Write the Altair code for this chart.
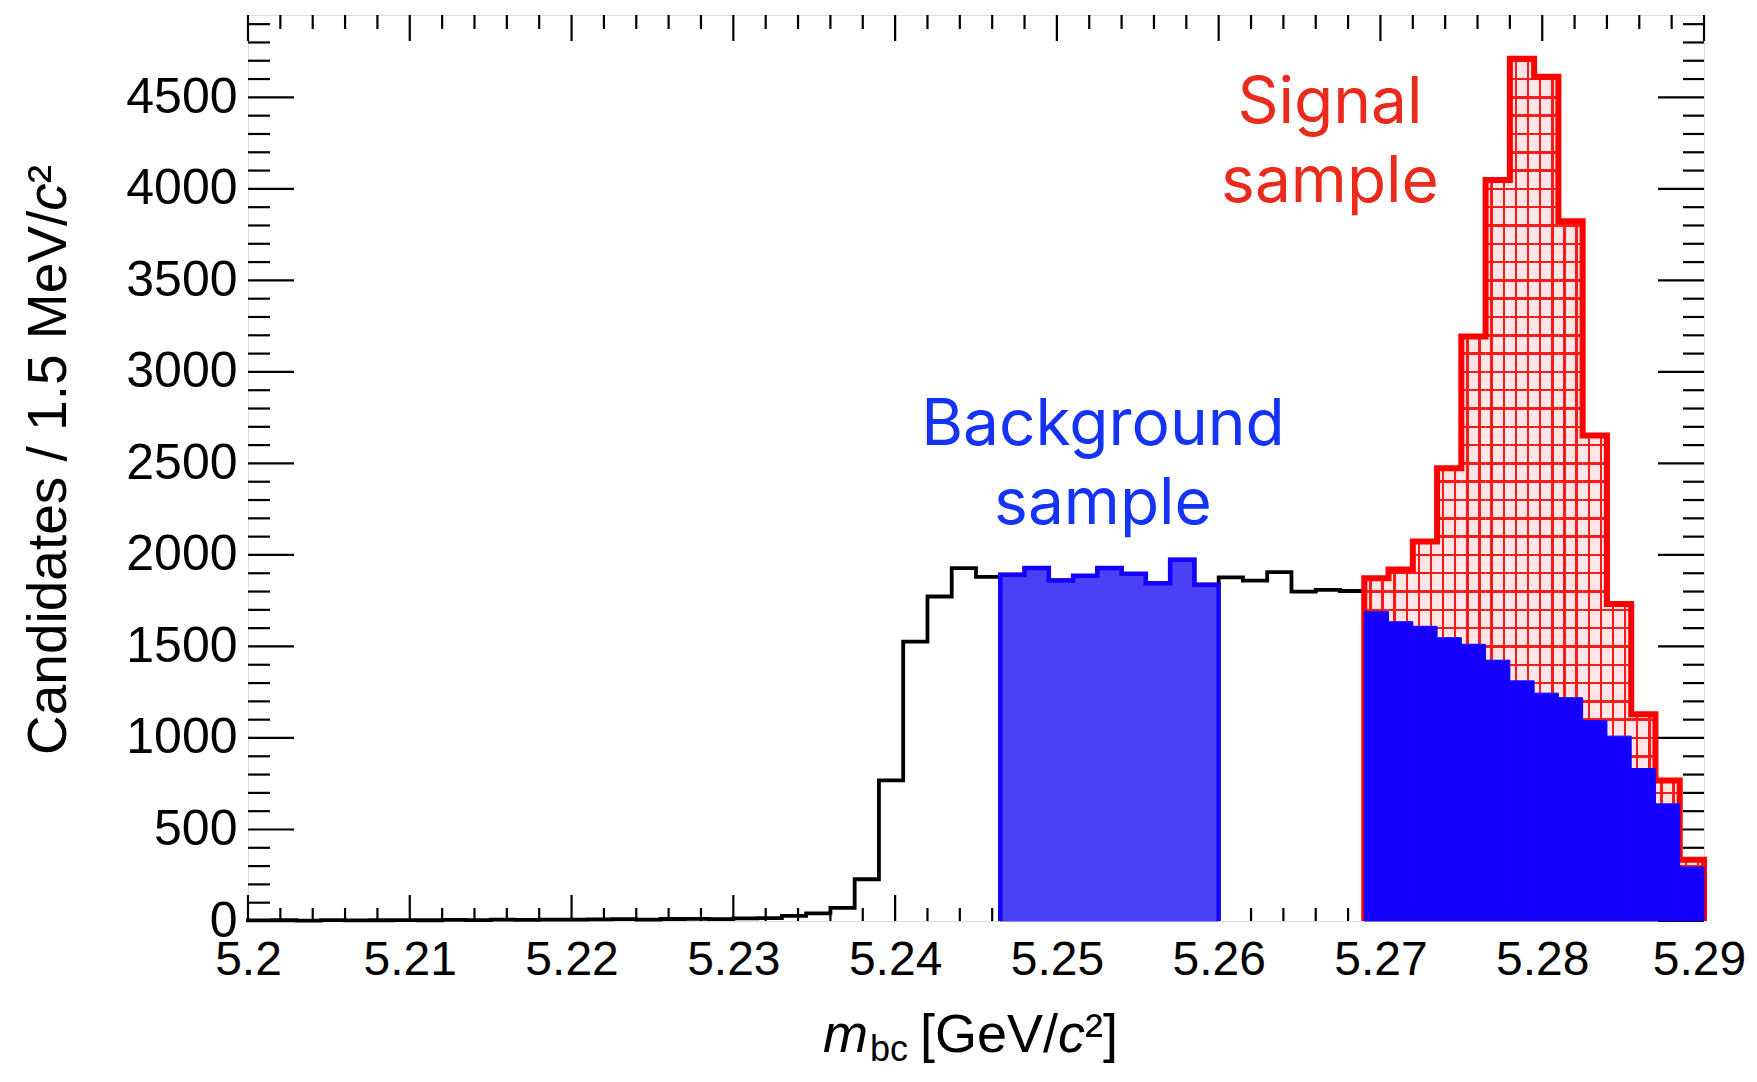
import altair as alt
import pandas as pd

# ---------------- data ----------------
X_LO, X_HI = 5.20, 5.29
BIN_W = 0.0015
Y_MAX = 4950

# total candidates per 1.5 MeV bin (60 bins from 5.200 to 5.290 GeV)
total_counts = [3, 4, 2, 5, 3, 4, 5, 4, 6, 5, 7, 6, 8, 7, 9, 10, 8, 11, 12, 10, 14, 16,
                28, 42, 72, 228, 768, 1526, 1773, 1928, 1880,
                1892, 1928, 1861, 1886, 1928, 1897, 1846, 1974, 1837,
                1877, 1860, 1906, 1800, 1809, 1803,
                1872, 1920, 2074, 2474, 3193, 4048, 4711, 4613, 3823, 2653, 1732, 1129, 767, 335]
# background component inside the signal window (bins 46..59)
bkg_sig_counts = [1690, 1635, 1610, 1548, 1512, 1425, 1312, 1245, 1220, 1095, 1010, 833, 640, 295]

BKG_FIRST, BKG_LAST = 31, 39     # background sample bins
SIG_FIRST, SIG_LAST = 46, 59     # signal sample bins

x_major = [5.20, 5.21, 5.22, 5.23, 5.24, 5.25, 5.26, 5.27, 5.28, 5.29]
y_major = [0, 500, 1000, 1500, 2000, 2500, 3000, 3500, 4000, 4500]
x_minor = [round(5.20 + 0.002 * k, 3) for k in range(1, 45) if k % 5]
y_minor = [v for v in range(100, 5000, 100) if v % 500]

label_signal = ["Signal", "sample"]
label_bkg = ["Background", "sample"]
y_title_parts = ["Candidates / 1.5 MeV/", "c", "²"]
x_title_parts = ["m", "bc", "[GeV/", "c", "²]"]

# ---------------- style ----------------
W, H = 1456, 906
FONT = "Liberation Sans"
TXT_FONT = "Inter"
BLACK = "#000000"
RED = "#ff0000"
BLUE = "#1500ff"
BLUE_HATCH = "#4a40f5"
HATCH_BG = "#ffe6e6"
HATCH_LINE = "#ff1a1a"
SIG_TXT = "#ea2a1c"
BKG_TXT = "#1433f5"

k_px = H / Y_MAX


def edge(i):
    return round(X_LO + i * BIN_W, 5)


def step_path(first, last, vals, close):
    pts = []
    if close:
        pts.append((edge(first), 0))
    for i in range(first, last + 1):
        v = vals[i]
        pts.append((edge(i), v))
        pts.append((edge(i + 1), v))
    if close:
        pts.append((edge(last + 1), 0))
    return pd.DataFrame({"x": [p[0] for p in pts], "y": [p[1] for p in pts],
                         "o": list(range(len(pts)))})


def hline_grad(lo, hi):
    h = (hi - lo) * k_px
    t = 1.25 / h
    stops = [{"offset": 0.0, "color": HATCH_BG}]
    levels = [L for L in range(100, 5000, 100) if lo < L < hi]
    for L in sorted(levels, reverse=True):
        f = (hi - L) / (hi - lo)
        a, b = max(0.0, f - t), min(1.0, f + t)
        stops += [{"offset": a, "color": HATCH_BG}, {"offset": a, "color": HATCH_LINE},
                  {"offset": b, "color": HATCH_LINE}, {"offset": b, "color": HATCH_BG}]
    stops.append({"offset": 1.0, "color": HATCH_BG})
    return {"gradient": "linear", "x1": 0, "y1": 0, "x2": 0, "y2": 1, "stops": stops}


bin_px = W * BIN_W / (X_HI - X_LO)
vt = 1.2 / bin_px
CLR0 = "rgba(255,30,30,0)"
vstops = [{"offset": 0.0, "color": CLR0}]
for c in (0.25, 0.75):
    vstops += [{"offset": c - vt, "color": CLR0}, {"offset": c - vt, "color": HATCH_LINE},
               {"offset": c + vt, "color": HATCH_LINE}, {"offset": c + vt, "color": CLR0}]
vstops.append({"offset": 1.0, "color": CLR0})
VLINE_GRAD = {"gradient": "linear", "x1": 0, "y1": 0, "x2": 1, "y2": 0, "stops": vstops}

# ---------------- scales / axes ----------------
xs = alt.Scale(domain=[X_LO, X_HI], nice=False, zero=False)
ys = alt.Scale(domain=[0, Y_MAX], nice=False, zero=False)
x_axis = alt.Axis(values=x_major, format=".2~f", title=None, domain=False, ticks=False,
                  tickSize=0, grid=False, labelFont=FONT, labelFontSize=48, labelColor=BLACK,
                  labelPadding=15, labelFlush=False, labelOverlap=False,
                  labelOffset={"condition": {"test": "datum.value > 5.285", "value": -5},
                               "value": 0})
y_axis = alt.Axis(values=y_major, format="d", title=None, domain=False, ticks=False,
                  tickSize=0, grid=False, labelFont=FONT, labelFontSize=50, labelColor=BLACK,
                  labelPadding=11, labelOverlap=False)


def X(f="x"):
    return alt.X(f"{f}:Q", scale=xs, axis=x_axis)


def Y(f="y"):
    return alt.Y(f"{f}:Q", scale=ys, axis=y_axis)


layers = []

# ticks (ROOT style, inside the frame, on all four sides)
df_ymaj = pd.DataFrame({"y": y_major})
df_ymin = pd.DataFrame({"y": y_minor})
df_xmaj = pd.DataFrame({"x": x_major})
df_xmin = pd.DataFrame({"x": x_minor})
tick = dict(color=BLACK, strokeWidth=2.2)
layers += [
    alt.Chart(df_ymaj).mark_rule(**tick).encode(y=Y(), x=alt.value(0), x2=alt.value(46)),
    alt.Chart(df_ymin).mark_rule(**tick).encode(y=Y(), x=alt.value(0), x2=alt.value(22)),
    alt.Chart(df_ymaj).mark_rule(**tick).encode(y=Y(), x=alt.value(W - 46), x2=alt.value(W)),
    alt.Chart(df_ymin).mark_rule(**tick).encode(y=Y(), x=alt.value(W - 21), x2=alt.value(W)),
    alt.Chart(df_xmaj).mark_rule(**tick).encode(x=X(), y=alt.value(H), y2=alt.value(H - 26)),
    alt.Chart(df_xmin).mark_rule(**tick).encode(x=X(), y=alt.value(H), y2=alt.value(H - 13)),
    alt.Chart(df_xmaj).mark_rule(**tick).encode(x=X(), y=alt.value(0), y2=alt.value(26)),
    alt.Chart(df_xmin).mark_rule(**tick).encode(x=X(), y=alt.value(0), y2=alt.value(14)),
]

# black histogram (all candidates outside the signal window)
black_path = step_path(0, SIG_FIRST - 1, total_counts, close=False)
layers.append(alt.Chart(black_path).mark_line(color=BLACK, strokeWidth=3.8, strokeJoin="miter",
                                              strokeCap="square")
              .encode(x=X(), y=Y(), order="o:Q"))

# background sample (blue hatched)
bkg_rects = pd.DataFrame({
    "x": [edge(i) for i in range(BKG_FIRST, BKG_LAST + 1)],
    "x2": [edge(i + 1) for i in range(BKG_FIRST, BKG_LAST + 1)],
    "y": [0] * (BKG_LAST - BKG_FIRST + 1),
    "y2": [total_counts[i] for i in range(BKG_FIRST, BKG_LAST + 1)],
})
layers.append(alt.Chart(bkg_rects).mark_rect(fill=BLUE_HATCH, stroke=BLUE_HATCH, strokeWidth=1)
              .encode(x=X(), x2="x2:Q", y=Y(), y2="y2:Q"))
layers.append(alt.Chart(step_path(BKG_FIRST, BKG_LAST, total_counts, close=True))
              .mark_line(color=BLUE, strokeWidth=4.5, strokeJoin="miter")
              .encode(x=X(), y=Y(), order="o:Q"))

# signal sample (red brick hatch)
sig_records = []
for i in range(SIG_FIRST, SIG_LAST + 1):
    lo = bkg_sig_counts[i - SIG_FIRST]
    hi = total_counts[i]
    sig_records.append({"x": edge(i), "x2": edge(i + 1), "y": lo, "y2": hi,
                        "g": hline_grad(lo, hi)})
sig_data = alt.Data(values=sig_records)
layers.append(alt.Chart(sig_data).mark_rect(strokeWidth=0)
              .encode(x=X(), x2="x2:Q", y=Y(), y2="y2:Q",
                      fill=alt.Fill("g:N", scale=None, legend=None)))
layers.append(alt.Chart(sig_data).mark_rect(strokeWidth=0, fill=VLINE_GRAD)
              .encode(x=X(), x2="x2:Q", y=Y(), y2="y2:Q"))
layers.append(alt.Chart(step_path(SIG_FIRST, SIG_LAST, total_counts, close=True))
              .mark_line(color=RED, strokeWidth=6, strokeJoin="miter")
              .encode(x=X(), y=Y(), order="o:Q"))

# background under the signal peak (solid blue)
bsig = pd.DataFrame({
    "x": [edge(i) for i in range(SIG_FIRST, SIG_LAST + 1)],
    "x2": [edge(i + 1) for i in range(SIG_FIRST, SIG_LAST + 1)],
    "y": [0] * len(bkg_sig_counts),
    "y2": bkg_sig_counts,
})
layers.append(alt.Chart(bsig).mark_rect(fill=BLUE, stroke=BLUE, strokeWidth=1)
              .encode(x=X(), x2="x2:Q", y=Y(), y2="y2:Q"))


# text annotations
def txt(s, x, y, size, color, font=TXT_FONT, align="center", angle=0, style="normal"):
    kw = dict(font=font, fontSize=size, color=color, align=align, baseline="alphabetic",
              fontStyle=style)
    if angle:
        kw["angle"] = angle
    return alt.Chart(pd.DataFrame({"t": [s]})).mark_text(**kw).encode(
        text="t:N", x=alt.value(x), y=alt.value(y))


YT = 55       # y-title font size
XT = 54       # x-title font size
y_start = 740  # bottom end of the rotated y title
y_c = y_start - 9.894 * YT
x0 = 672
x_c = x0 + 2.557 * XT
XB = 1037     # x-title baseline (relative to plot top)
layers += [
    txt(label_signal[0], 1082, 108, 64, SIG_TXT),
    txt(label_signal[1], 1082, 187, 64, SIG_TXT),
    txt(label_bkg[0], 855, 430, 64, BKG_TXT),
    txt(label_bkg[1], 855, 509, 64, BKG_TXT),
    txt(y_title_parts[0], -182, y_start, YT, BLACK, font=FONT, align="left", angle=270),
    txt(y_title_parts[1], -182, y_c, YT, BLACK, font=FONT, align="left", angle=270,
        style="italic"),
    txt(y_title_parts[2], -182, y_c - 0.5 * YT, YT, BLACK, font=FONT, align="left",
        angle=270),
    txt(x_title_parts[0], 575, XB, XT, BLACK, font=FONT, align="left", style="italic"),
    txt(x_title_parts[1], 622, XB + 9, 36, BLACK, font=FONT, align="left"),
    txt(x_title_parts[2], x0, XB, XT, BLACK, font=FONT, align="left"),
    txt(x_title_parts[3], x_c, XB, XT, BLACK, font=FONT, align="left", style="italic"),
    txt(x_title_parts[4], x_c + 0.5 * XT, XB, XT, BLACK, font=FONT, align="left"),
]

chart = alt.layer(*layers).properties(
    width=W, height=H,
    autosize=alt.AutoSizeParams(type="none"),
    padding={"left": 240, "top": 7, "right": 45, "bottom": 148},
).configure_view(stroke=BLACK, strokeWidth=2.5).configure(background="white")

chart.save("out.html", embed_options={"renderer": "svg", "actions": False})
